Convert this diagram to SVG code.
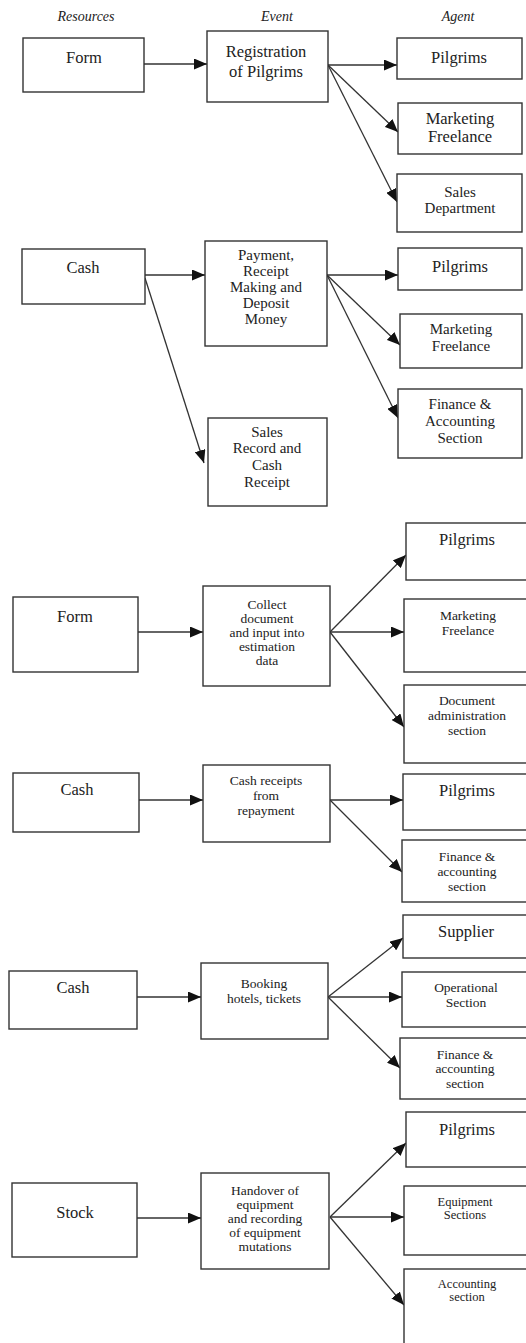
<svg xmlns="http://www.w3.org/2000/svg" width="526" height="1343" viewBox="0 0 526 1343">
<style>
rect{fill:#fff;stroke:#333;stroke-width:1.4}
text{font-family:"Liberation Serif","Times New Roman",serif;font-size:16.5px;fill:#222;text-anchor:middle}
.h{font-style:italic;font-size:14px}
.m{font-size:15px}
.s{font-size:13.5px}
.t{font-size:12.5px}
#connectors line{stroke:#333;stroke-width:1.3;marker-end:url(#ah)}
</style>
<defs>
<marker id="ah" markerUnits="userSpaceOnUse" markerWidth="13" markerHeight="11" refX="13" refY="5.5" orient="auto">
<path d="M0,0 L13,5.5 L0,11 z" fill="#111"/>
</marker>
</defs>
<g id="headers">
<text class="h" x="86" y="21">Resources</text>
<text class="h" x="277" y="21">Event</text>
<text class="h" x="458" y="21">Agent</text>
</g>
<g id="connectors">
<line x1="144" y1="64" x2="207" y2="64"/>
<line x1="328" y1="65" x2="397" y2="65"/>
<line x1="328" y1="65" x2="398" y2="132"/>
<line x1="328" y1="65" x2="397" y2="202"/>
<line x1="145" y1="275" x2="205" y2="275"/>
<line x1="145" y1="278" x2="204" y2="463"/>
<line x1="327" y1="275" x2="398" y2="275"/>
<line x1="327" y1="275" x2="400" y2="345"/>
<line x1="327" y1="275" x2="398" y2="418"/>
<line x1="138" y1="632" x2="203" y2="632"/>
<line x1="330" y1="632" x2="406" y2="555"/>
<line x1="330" y1="632" x2="404" y2="632"/>
<line x1="330" y1="632" x2="404" y2="727"/>
<line x1="139" y1="800" x2="203" y2="800"/>
<line x1="330" y1="800" x2="403" y2="800"/>
<line x1="330" y1="800" x2="402" y2="872"/>
<line x1="137" y1="997" x2="201" y2="997"/>
<line x1="328" y1="997" x2="403" y2="938"/>
<line x1="328" y1="997" x2="402" y2="997"/>
<line x1="328" y1="997" x2="400" y2="1068"/>
<line x1="137" y1="1218" x2="201" y2="1218"/>
<line x1="330" y1="1217" x2="406" y2="1143"/>
<line x1="330" y1="1217" x2="404" y2="1217"/>
<line x1="330" y1="1217" x2="404" y2="1305"/>
</g>
<g id="r1"><rect x="23" y="38" width="121" height="54"/><text x="84" y="63">Form</text></g>
<g id="e1"><rect x="207" y="31" width="121" height="71"/><text x="266" y="57">Registration</text><text x="266" y="77">of Pilgrims</text></g>
<g id="a1a"><rect x="397" y="38" width="125" height="41"/><text x="459" y="63">Pilgrims</text></g>
<g id="a1b"><rect x="398" y="103" width="124" height="51"/><text x="460" y="124">Marketing</text><text x="460" y="142">Freelance</text></g>
<g id="a1c"><rect x="397" y="174" width="125" height="58"/><text class="m" x="460" y="197">Sales</text><text class="m" x="460" y="213">Department</text></g>

<g id="r2"><rect x="22" y="249" width="123" height="55"/><text x="83" y="273">Cash</text></g>
<g id="e2"><rect x="205" y="241" width="122" height="105"/><text class="m" x="266" y="260">Payment,</text><text class="m" x="266" y="276">Receipt</text><text class="m" x="266" y="292">Making and</text><text class="m" x="266" y="308">Deposit</text><text class="m" x="266" y="324">Money</text></g>
<g id="e2b"><rect x="208" y="418" width="119" height="88"/><text class="m" x="267" y="437">Sales</text><text class="m" x="267" y="453">Record and</text><text class="m" x="267" y="470">Cash</text><text class="m" x="267" y="487">Receipt</text></g>
<g id="a2a"><rect x="398" y="248" width="124" height="42"/><text x="460" y="272">Pilgrims</text></g>
<g id="a2b"><rect x="400" y="314" width="122" height="54"/><text class="m" x="461" y="334">Marketing</text><text class="m" x="461" y="351">Freelance</text></g>
<g id="a2c"><rect x="398" y="389" width="124" height="69"/><text class="m" x="460" y="409">Finance &amp;</text><text class="m" x="460" y="426">Accounting</text><text class="m" x="460" y="443">Section</text></g>

<g id="r3"><rect x="13" y="597" width="125" height="75"/><text x="75" y="622">Form</text></g>
<g id="e3"><rect x="203" y="586" width="127" height="100"/><text class="s" x="267" y="609">Collect</text><text class="s" x="267" y="623">document</text><text class="s" x="267" y="637">and input into</text><text class="s" x="267" y="651">estimation</text><text class="s" x="267" y="665">data</text></g>
<g id="a3a"><rect x="406" y="523" width="124" height="57"/><text x="467" y="545">Pilgrims</text></g>
<g id="a3b"><rect x="404" y="599" width="126" height="73"/><text class="s" x="468" y="620">Marketing</text><text class="s" x="468" y="635">Freelance</text></g>
<g id="a3c"><rect x="404" y="685" width="126" height="78"/><text class="s" x="467" y="705">Document</text><text class="s" x="467" y="720">administration</text><text class="s" x="467" y="735">section</text></g>

<g id="r4"><rect x="13" y="773" width="126" height="59"/><text x="77" y="795">Cash</text></g>
<g id="e4"><rect x="203" y="765" width="127" height="77"/><text class="s" x="266" y="785">Cash receipts</text><text class="s" x="266" y="800">from</text><text class="s" x="266" y="815">repayment</text></g>
<g id="a4a"><rect x="403" y="774" width="127" height="56"/><text x="467" y="796">Pilgrims</text></g>
<g id="a4b"><rect x="402" y="840" width="128" height="62"/><text class="s" x="467" y="861">Finance &amp;</text><text class="s" x="467" y="876">accounting</text><text class="s" x="467" y="891">section</text></g>

<g id="r5"><rect x="9" y="971" width="128" height="58"/><text x="73" y="993">Cash</text></g>
<g id="e5"><rect x="201" y="963" width="127" height="76"/><text class="s" x="264" y="988">Booking</text><text class="s" x="264" y="1003">hotels, tickets</text></g>
<g id="a5a"><rect x="403" y="915" width="127" height="43"/><text x="466" y="937">Supplier</text></g>
<g id="a5b"><rect x="402" y="972" width="128" height="55"/><text class="s" x="466" y="992">Operational</text><text class="s" x="466" y="1007">Section</text></g>
<g id="a5c"><rect x="400" y="1038" width="130" height="61"/><text class="s" x="465" y="1059">Finance &amp;</text><text class="s" x="465" y="1073">accounting</text><text class="s" x="465" y="1088">section</text></g>

<g id="r6"><rect x="12" y="1183" width="125" height="74"/><text x="75" y="1218">Stock</text></g>
<g id="e6"><rect x="201" y="1173" width="128" height="96"/><text class="s" x="265" y="1195">Handover of</text><text class="s" x="265" y="1209">equipment</text><text class="s" x="265" y="1223">and recording</text><text class="s" x="265" y="1237">of equipment</text><text class="s" x="265" y="1251">mutations</text></g>
<g id="a6a"><rect x="406" y="1112" width="124" height="55"/><text x="467" y="1135">Pilgrims</text></g>
<g id="a6b"><rect x="404" y="1186" width="126" height="69"/><text class="t" x="465" y="1206">Equipment</text><text class="t" x="465" y="1219">Sections</text></g>
<g id="a6c"><rect x="404" y="1269" width="126" height="90"/><text class="t" x="467" y="1288">Accounting</text><text class="t" x="467" y="1301">section</text></g>
</svg>
